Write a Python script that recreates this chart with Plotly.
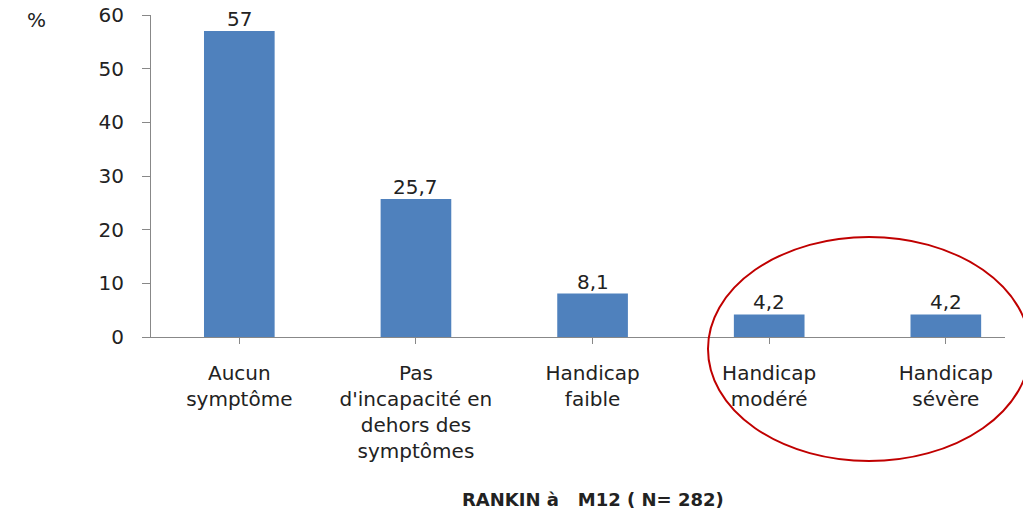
import plotly.graph_objects as go

categories = ["Aucun<br>symptôme", "Pas<br>d'incapacité en<br>dehors des<br>symptômes",
              "Handicap<br>faible", "Handicap<br>modéré", "Handicap<br>sévère"]
values = [57, 25.7, 8.1, 4.2, 4.2]
value_labels = ["57", "25,7", "8,1", "4,2", "4,2"]
y_ticks = [0, 10, 20, 30, 40, 50, 60]

FONT = "DejaVu Sans"
TXT = "#222222"

fig = go.Figure()
fig.add_trace(go.Bar(
    x=list(range(len(categories))), y=values,
    marker=dict(color="#4F81BD", line=dict(width=0)),
    width=0.4, hoverinfo="x+y",
))

OFF = 8  # page body margin
W, H = 1023, 507
L, T = 151 - OFF, 15 - OFF
pw, ph = 854, 322
R = W - L - pw
B = H - T - ph

def px_x(p):
    return (p - OFF - L) / pw

def px_y(p):
    return (T + ph - (p - OFF)) / ph

annotations = [
    dict(text=lab, x=i, y=v, xref="x", yref="y", showarrow=False,
         xanchor="center", yanchor="middle", yshift=12,
         font=dict(family=FONT, size=20, color=TXT))
    for i, (v, lab) in enumerate(zip(values, value_labels))
]
annotations += [
    dict(text="%", x=px_x(37), y=px_y(20), xref="paper", yref="paper",
         xanchor="center", yanchor="middle",
         showarrow=False, font=dict(family=FONT, size=20, color=TXT)),
    dict(text="<b>RANKIN à   M12 ( N= 282)</b>", x=px_x(593), y=px_y(500),
         xref="paper", yref="paper", xanchor="center", yanchor="middle",
         showarrow=False, font=dict(family=FONT, size=18, color=TXT)),
]

fig.update_layout(
    width=W, height=H,
    margin=dict(l=L, r=R, t=T, b=B, autoexpand=False),
    plot_bgcolor="white", paper_bgcolor="white",
    showlegend=False,
    font=dict(family=FONT, size=18, color=TXT),
    xaxis=dict(
        range=[-0.5, 4.335], tickmode="array", automargin=False,
        tickvals=list(range(len(categories))), ticktext=categories,
        tickson="boundaries", ticks="outside", ticklen=6, tickcolor="#888888",
        showline=True, linecolor="#888888", linewidth=1.2,
        showgrid=False, zeroline=False, ticklabelstandoff=12,
        ticklabeloverflow="allow",
        tickfont=dict(family=FONT, size=20, color=TXT),
    ),
    yaxis=dict(
        range=[0, 60], tickvals=y_ticks, ticks="outside", ticklen=8, automargin=False,
        tickcolor="#888888", showline=True, linecolor="#888888", linewidth=1.2,
        showgrid=False, zeroline=False, ticklabelstandoff=14,
        ticklabeloverflow="allow",
        tickfont=dict(family=FONT, size=20, color=TXT),
    ),
    annotations=annotations,
    shapes=[
        dict(type="circle", xref="paper", yref="paper",
             x0=px_x(708), x1=px_x(1030), y0=px_y(461), y1=px_y(237),
             line=dict(color="#C00000", width=2), layer="above"),
    ],
)

fig.write_html("out.html")
